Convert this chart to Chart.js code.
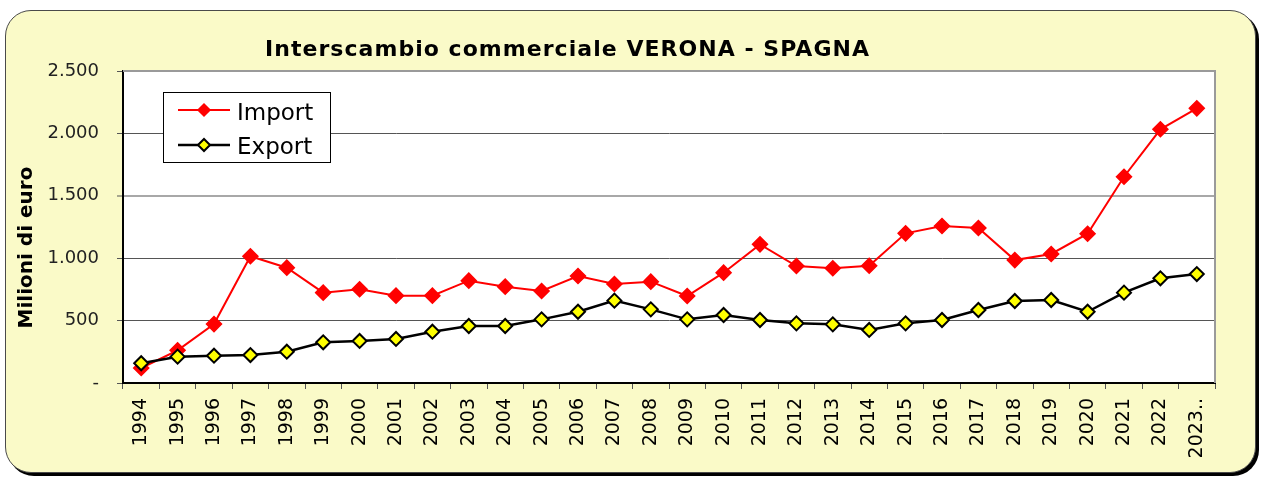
<!DOCTYPE html>
<html>
<head>
<meta charset="utf-8">
<script src="https://cdn.jsdelivr.net/npm/chart.js@4/dist/chart.umd.min.js"></script>
<style>
  html, body { margin: 0; padding: 0; background: #ffffff; width: 1261px; height: 477px; overflow: hidden; }
  #frame { position: absolute; left: 5px; top: 10px; width: 1251px; height: 463px; box-sizing: border-box;
           background: #FAFAC8; border: 1px solid #4a4a4a; border-radius: 26px; box-shadow: 3px 3px 0 #000; }
  #c { position: absolute; left: 0; top: 0; }
</style>
</head>
<body>
<div id="frame"></div>
<canvas id="c" width="1261" height="477"></canvas>
<script>
const titleText = 'Interscambio commerciale VERONA - SPAGNA';
const yAxisTitle = 'Milioni di euro';
const years = ['1994','1995','1996','1997','1998','1999','2000','2001','2002','2003','2004','2005','2006','2007','2008','2009','2010','2011','2012','2013','2014','2015','2016','2017','2018','2019','2020','2021','2022','2023..'];
const importValues = [120, 262, 472, 1016, 924, 724, 751, 700, 700, 820, 772, 737, 857, 793, 812, 697, 884, 1111, 937, 919, 940, 1199, 1258, 1242, 985, 1034, 1196, 1653, 2033, 2201];
const exportValues = [158, 211, 219, 224, 251, 326, 337, 353, 411, 457, 457, 510, 571, 660, 590, 510, 545, 505, 478, 470, 425, 478, 505, 585, 657, 665, 571, 724, 839, 873];
const yTickValues = [0, 500, 1000, 1500, 2000, 2500];
const yTickLabels = ['-', '500', '1.000', '1.500', '2.000', '2.500'];

const FONT = '"DejaVu Sans", Verdana, sans-serif';

const decorPlugin = {
  id: 'decor',
  beforeDraw(chart) {
    const ctx = chart.ctx, a = chart.chartArea;
    ctx.save();
    ctx.fillStyle = '#ffffff';
    ctx.fillRect(a.left, a.top, a.right - a.left, a.bottom - a.top);
    ctx.restore();
  },
  afterDraw(chart) {
    const ctx = chart.ctx, a = chart.chartArea;
    ctx.save();
    // top & right plot border (gray)
    ctx.strokeStyle = '#9a9a9a';
    ctx.lineWidth = 2;
    ctx.beginPath();
    ctx.moveTo(a.left, a.top);
    ctx.lineTo(a.right, a.top);
    ctx.lineTo(a.right, a.bottom);
    ctx.stroke();

    // title
    ctx.fillStyle = '#000';
    ctx.font = 'bold 22px ' + FONT;
    ctx.textAlign = 'left';
    ctx.textBaseline = 'alphabetic';
    const w = ctx.measureText(titleText).width;
    const ls = (604 - w) / (titleText.length - 1);
    ctx.letterSpacing = ls + 'px';
    ctx.fillText(titleText, 265, 56);
    ctx.letterSpacing = '0px';

    // y axis title
    ctx.save();
    ctx.translate(32, 247.5);
    ctx.rotate(-Math.PI / 2);
    ctx.font = 'bold 20px ' + FONT;
    ctx.textAlign = 'center';
    ctx.textBaseline = 'alphabetic';
    ctx.fillText(yAxisTitle, 0, 0);
    ctx.restore();

    // legend
    const bx = 163.5, by = 92.5, bw = 167, bh = 70;
    ctx.fillStyle = '#fff';
    ctx.fillRect(bx, by, bw, bh);
    ctx.strokeStyle = '#000';
    ctx.lineWidth = 1;
    ctx.strokeRect(bx, by, bw, bh);
    const rows = [110, 145];
    const baselines = [119.5, 153.5];
    chart.data.datasets.slice().sort((p, q) => p.legendIndex - q.legendIndex).forEach((ds, i) => {
      const y = rows[i];
      ctx.strokeStyle = ds.borderColor;
      ctx.lineWidth = ds.borderWidth;
      ctx.beginPath();
      ctx.moveTo(178, y);
      ctx.lineTo(230, y);
      ctx.stroke();
      const r = 6;
      ctx.beginPath();
      ctx.moveTo(204 - r, y);
      ctx.lineTo(204, y - r);
      ctx.lineTo(204 + r, y);
      ctx.lineTo(204, y + r);
      ctx.closePath();
      ctx.fillStyle = ds.pointBackgroundColor;
      ctx.fill();
      ctx.strokeStyle = ds.pointBorderColor;
      ctx.lineWidth = ds.pointBorderWidth;
      ctx.stroke();
      ctx.fillStyle = '#000';
      ctx.font = '23px ' + FONT;
      ctx.textAlign = 'left';
      ctx.textBaseline = 'alphabetic';
      ctx.fillText(ds.label, 237, baselines[i]);
    });
    ctx.restore();
  }
};

new Chart(document.getElementById('c'), {
  type: 'line',
  data: {
    labels: years,
    datasets: [
      {
        label: 'Import',
        legendIndex: 0,
        data: importValues,
        borderColor: '#ff0000',
        borderWidth: 2,
        pointStyle: 'rectRot',
        pointRadius: 7.5,
        pointBackgroundColor: '#ff0000',
        pointBorderColor: '#ff0000',
        pointBorderWidth: 1.5,
        tension: 0,
        order: 1
      },
      {
        label: 'Export',
        legendIndex: 1,
        data: exportValues,
        borderColor: '#000000',
        borderWidth: 2.5,
        pointStyle: 'rectRot',
        pointRadius: 7,
        pointBackgroundColor: '#ffff00',
        pointBorderColor: '#000000',
        pointBorderWidth: 2,
        tension: 0,
        order: 0
      }
    ]
  },
  options: {
    responsive: false,
    animation: false,
    devicePixelRatio: 1,
    layout: { padding: { left: 0, right: 46, top: 71, bottom: 0 } },
    plugins: { legend: { display: false }, title: { display: false }, tooltip: { enabled: false } },
    scales: {
      x: {
        offset: true,
        afterFit(axis) { axis.height = 94; },
        grid: { display: true, drawOnChartArea: false, offset: true, tickLength: 6, tickColor: '#555', tickWidth: 1 },
        border: { color: '#000', width: 2 },
        ticks: {
          autoSkip: false, maxRotation: 90, minRotation: 90, padding: 9,
          color: '#000', font: { family: FONT, size: 19 }
        }
      },
      y: {
        min: 0, max: 2500,
        afterFit(axis) { axis.width = 123; },
        afterBuildTicks(axis) { axis.ticks = yTickValues.map(v => ({ value: v })); },
        grid: {
          color: c => (c.tick && (c.tick.value === 0 || c.tick.value === 2500)) ? 'rgba(0,0,0,0)' : (c.tick && c.tick.value === 1500 ? '#a8a8a8' : '#555'),
          lineWidth: c => (c.tick && c.tick.value === 1500) ? 2 : 1,
          tickLength: 6, tickColor: '#555', tickWidth: 1
        },
        border: { color: '#000', width: 2 },
        ticks: {
          padding: 18, color: '#222', font: { family: FONT, size: 18 },
          callback: (v) => yTickLabels[yTickValues.indexOf(v)]
        }
      }
    }
  },
  plugins: [decorPlugin]
});
</script>
</body>
</html>
